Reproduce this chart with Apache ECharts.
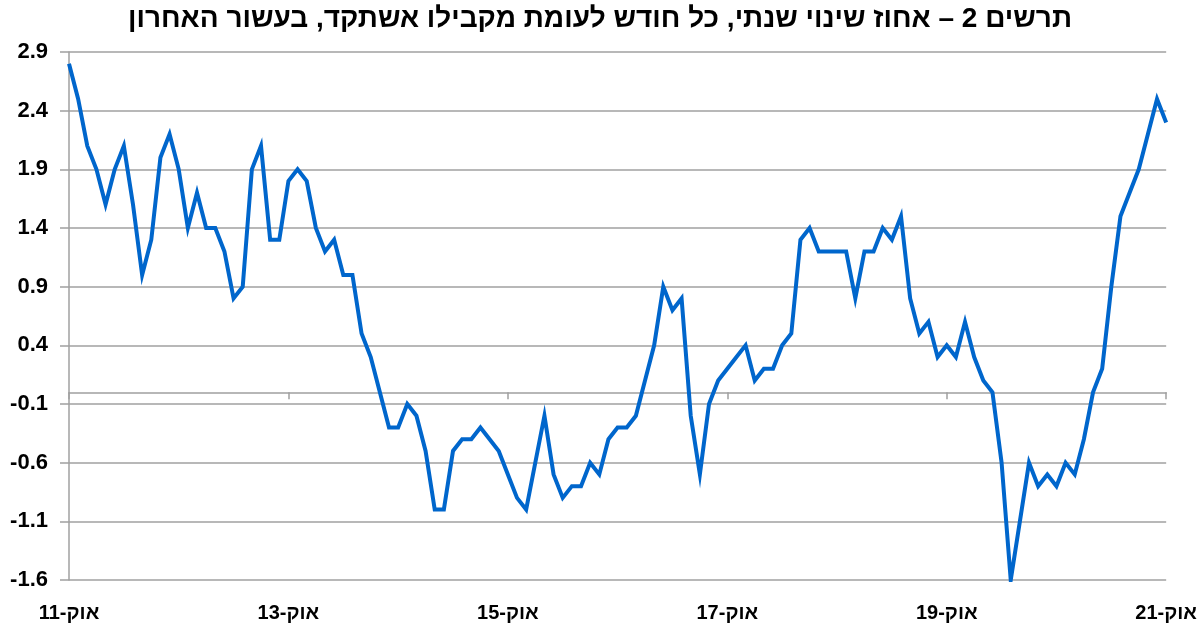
<!DOCTYPE html>
<html>
<head>
<meta charset="utf-8">
<script src="https://cdn.jsdelivr.net/npm/echarts@6/dist/echarts.min.js"></script>
<style>html,body{margin:0;padding:0;background:#fff}#c{width:1200px;height:628px}</style>
</head>
<body>
<div id="c"></div>
<script>
const titleText = 'תרשים 2 – אחוז שינוי שנתי, כל חודש לעומת מקבילו אשתקד, בעשור האחרון';
const monthNames = ['ינו','פבר','מרס','אפר','מאי','יונ','יול','אוג','ספט','אוק','נוב','דצמ'];
// monthly, Oct 2011 .. Oct 2021
const startYear = 2011, startMonth = 9;
const values = [
  2.8, 2.5, 2.1, 1.9, 1.6, 1.9, 2.1, 1.6, 1.0, 1.3, 2.0, 2.2,
  1.9, 1.4, 1.7, 1.4, 1.4, 1.2, 0.8, 0.9, 1.9, 2.1, 1.3, 1.3,
  1.8, 1.9, 1.8, 1.4, 1.2, 1.3, 1.0, 1.0, 0.5, 0.3, 0.0, -0.3,
  -0.3, -0.1, -0.2, -0.5, -1.0, -1.0, -0.5, -0.4, -0.4, -0.3, -0.4, -0.5,
  -0.7, -0.9, -1.0, -0.6, -0.2, -0.7, -0.9, -0.8, -0.8, -0.6, -0.7, -0.4,
  -0.3, -0.3, -0.2, 0.1, 0.4, 0.9, 0.7, 0.8, -0.2, -0.7, -0.1, 0.1,
  0.2, 0.3, 0.4, 0.1, 0.2, 0.2, 0.4, 0.5, 1.3, 1.4, 1.2, 1.2,
  1.2, 1.2, 0.8, 1.2, 1.2, 1.4, 1.3, 1.5, 0.8, 0.5, 0.6, 0.3,
  0.4, 0.3, 0.6, 0.3, 0.1, 0.0, -0.6, -1.6, -1.1, -0.6, -0.8, -0.7,
  -0.8, -0.6, -0.7, -0.4, 0.0, 0.2, 0.9, 1.5, 1.7, 1.9, 2.2, 2.5,
  2.3
];
const categories = values.map((v, i) => {
  const m = (startMonth + i) % 12;
  const y = startYear + Math.floor((startMonth + i) / 12);
  return monthNames[m] + '-' + String(y % 100).padStart(2, '0');
});
const yMin = -1.6, yMax = 2.9, yStep = 0.5;
const labelEvery = 24;

const gray = '#a0a0a0';
const chart = echarts.init(document.getElementById('c'), null, {renderer: 'canvas'});
chart.setOption({
  animation: false,
  backgroundColor: '#fff',
  title: {
    text: titleText,
    left: 'center',
    top: 0,
    textStyle: {fontFamily: 'Liberation Sans', fontWeight: 'bold', fontSize: 28, color: '#000'}
  },
  grid: {left: 69, right: 33, top: 52, bottom: 48, containLabel: false},
  xAxis: [
    {
      type: 'category', data: categories, boundaryGap: false, position: 'bottom',
      axisLine: {show: false, onZero: false}, axisTick: {show: false},
      splitLine: {show: false},
      axisLabel: {
        interval: labelEvery - 1, margin: 23, color: '#000',
        fontFamily: 'Liberation Sans', fontWeight: 'bold', fontSize: 20
      }
    },
    {
      type: 'category', data: categories, boundaryGap: false, position: 'top',
      axisLine: {show: true, onZero: true, lineStyle: {color: gray, width: 1.5}},
      axisTick: {show: true, inside: true, interval: labelEvery - 1, length: 7, lineStyle: {color: gray, width: 1.5}},
      axisLabel: {show: false}, splitLine: {show: false}
    }
  ],
  yAxis: {
    type: 'value', min: yMin, max: yMax, interval: yStep,
    axisLine: {show: true, lineStyle: {color: gray, width: 1.5}},
    axisTick: {show: true, length: 9, lineStyle: {color: gray, width: 1.5}},
    splitLine: {show: true, lineStyle: {color: gray, width: 1.5}},
    axisLabel: {
      margin: 21, color: '#000', fontFamily: 'Liberation Sans', fontWeight: 'bold', fontSize: 22,
      formatter: v => v.toFixed(1)
    }
  },
  series: [{
    type: 'line', data: values, xAxisIndex: 0, yAxisIndex: 0,
    showSymbol: false, symbol: 'none',
    lineStyle: {color: '#0066cc', width: 4, join: 'miter'},
    z: 5
  }]
});
</script>
</body>
</html>
